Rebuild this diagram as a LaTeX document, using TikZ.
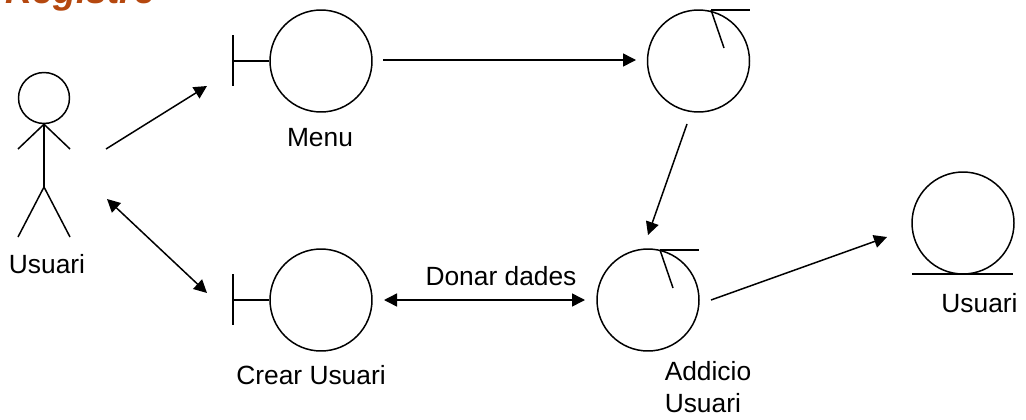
\documentclass[tikz,border=0pt]{standalone}
\usepackage{fontspec}
\setmainfont{Liberation Sans}
\usepackage{xcolor}
\usetikzlibrary{arrows.meta,positioning}
\definecolor{titlecolor}{HTML}{B5480F}
\tikzset{
  >={Triangle[length=7.4pt,width=7.4pt]},
  every path/.style={line width=0.85pt},
  big/.style={draw, circle, minimum size=2.04cm, inner sep=0pt},
  head/.style={draw, circle, minimum size=1.02cm, inner sep=0pt},
  lbl/.style={anchor=base, inner sep=0pt, font=\fontsize{15}{18.2}\selectfont}
}

\begin{document}
\begin{tikzpicture}[x=0.02cm,y=-0.02cm]
  \useasboundingbox (0,0) rectangle (1026,419);
  \node[anchor=base west, inner sep=0pt, text=titlecolor, font=\fontsize{21.2}{24}\selectfont\bfseries\itshape] (title) at (5,4) {Registre};

  \node[head] (actor) at (44,98) {};
  \coordinate (hip) at (44,187);
  \coordinate (lefthand) at (18,149);
  \coordinate (righthand) at (70,149);
  \coordinate (leftfoot) at (18,237);
  \coordinate (rightfoot) at (70,237);
  \draw (actor.south) -- (hip);
  \draw (lefthand) -- (actor.south) -- (righthand);
  \draw (leftfoot) -- (hip) -- (rightfoot);
  \node[lbl] (actorlabel) at (47,273) {Usuari};

  \node[big] (menu) at (321,61) {};
  \coordinate (menubar) at (233,61);
  \draw (menu.west) -- (menubar);
  \draw (233,35) -- (menubar) -- (233,86);
  \node[lbl] (menulabel) at (320,146) {Menu};

  \node[big] (crear) at (321,300) {};
  \coordinate (crearbar) at (233,300);
  \draw (crear.west) -- (crearbar);
  \draw (233,274) -- (crearbar) -- (233,325);
  \node[lbl] (crearlabel) at (311,384) {Crear Usuari};

  \node[big] (ctrl) at (698.5,61) {};
  \draw (711,10) -- (750,10);
  \draw (711,10) -- (724,48);

  \node[big] (addicio) at (648,300) {};
  \draw (660,250) -- (699,250);
  \draw (660,250) -- (673,288);
  \node[lbl, anchor=south west, align=left] (addiciolabel) at (664,413) {Addicio\\Usuari};

  \node[big] (entity) at (963,223) {};
  \draw (912,274) -- (1013,274);
  \node[lbl] (entitylabel) at (979.5,312) {Usuari};

  \node[lbl] (dades) at (501,285) {Donar dades};

  \draw[->] ([shift={(62,51)}]actor.center) -- ([shift={(-114,25)}]menu.center);
  \draw[<->] ([shift={(63,101)}]actor.center) -- ([shift={(-114,-7)}]crear.center);
  \draw[->] ([shift={(62,-1)}]menu.center) -- ([shift={(-62.5,-1)}]ctrl.center);
  \draw[->] ([shift={(-11.5,63)}]ctrl.center) -- ([shift={(0,-65)}]addicio.center);
  \draw[<->] ([shift={(63,0)}]crear.center) -- ([shift={(-63,0)}]addicio.center);
  \draw[->] ([shift={(63,0)}]addicio.center) -- ([shift={(-76,14)}]entity.center);
\end{tikzpicture}
\end{document}
